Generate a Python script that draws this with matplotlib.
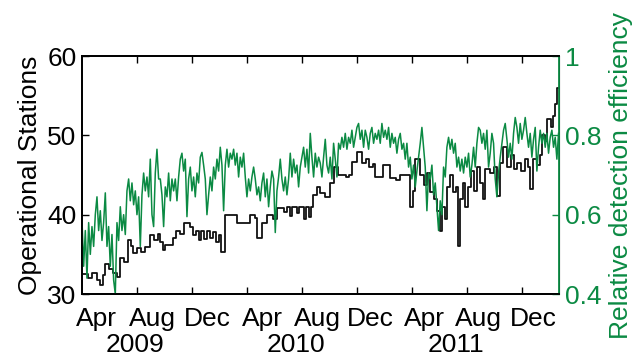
import numpy as np
import matplotlib
matplotlib.use("Agg")
import matplotlib.pyplot as plt

plt.rcParams["font.family"] = ["Liberation Sans", "DejaVu Sans"]

GREEN = "#0b8a43"
FS = 19

# x axis: days from the left edge of the plot (~1 Mar 2009)
X_END = 1053
tick_days = [121, 242, 364, 486, 608, 729, 851, 972]
month_days = [33, 155, 276, 398, 520, 637, 756, 876, 996]
month_labels = ["Apr", "Aug", "Dec", "Apr", "Aug", "Dec", "Apr", "Aug", "Dec"]
year_days = [117, 473, 826]
year_labels = ["2009", "2010", "2011"]

# operational stations: step changes (day, count)
station_days = [0, 13, 22, 33, 40, 46, 51, 60, 68, 77, 84, 93, 102, 108, 113, 121,
                130, 139, 150, 159, 168, 172, 179, 183, 201, 208, 216, 225, 239, 245,
                252, 258, 263, 270, 276, 283, 289, 296, 303, 307, 316, 342, 371, 382,
                387, 398, 409, 422, 431, 446, 453, 459, 464, 475, 479, 490, 495, 501,
                506, 510, 519, 526, 537, 548, 557, 565, 583, 590, 596, 607, 618, 627,
                634, 643, 647, 665, 680, 694, 702, 724, 731, 736, 747, 755, 762, 769,
                778, 784, 791, 795, 802, 806, 813, 820, 826, 831, 834, 840, 846, 853,
                859, 866, 873, 879, 886, 890, 901, 910, 917, 923, 930, 939, 946, 954,
                961, 970, 979, 985, 990, 996, 1005, 1012, 1016, 1023, 1027, 1036,
                1040, 1045, 1049, 1053]
stations = [32.5, 32.0, 32.6, 31.8, 31.1, 32.4, 33.8, 33.2, 32.6, 32.2, 34.5, 34.0,
            36.8, 36.0, 35.2, 35.8, 35.3, 35.9, 37.4, 36.8, 37.6, 36.5, 35.5, 36.2,
            37.0, 38.0, 37.6, 38.9, 38.4, 37.5, 38.0, 36.8, 37.9, 36.9, 38.0, 37.0,
            37.8, 36.6, 37.5, 35.3, 40.0, 39.0, 40.0, 39.6, 37.0, 39.0, 40.0, 39.5,
            40.8, 40.3, 41.0, 39.8, 41.0, 40.2, 41.0, 39.5, 41.0, 39.7, 41.0, 42.5,
            43.5, 42.7, 42.2, 44.0, 46.0, 45.0, 44.7, 45.0, 46.6, 47.9, 46.5, 47.0,
            46.0, 46.4, 44.8, 46.3, 44.6, 44.4, 45.0, 41.0, 43.0, 47.0, 45.0, 43.7,
            45.2, 42.8, 42.0, 40.5, 38.0, 41.0, 39.5, 43.5, 45.0, 42.8, 43.5, 36.0,
            42.0, 44.0, 41.0, 43.5, 45.5, 43.0, 46.0, 44.0, 42.0, 45.8, 45.2, 46.0,
            42.3, 46.5, 48.5, 46.0, 47.5, 45.8, 46.5, 45.5, 47.0, 46.0, 43.2, 47.0,
            46.2, 47.5, 50.0, 49.3, 52.0, 51.0, 52.5, 54.0, 56.0, 56.0]

# relative detection efficiency, sampled about every 3.7 days
efficiency = [
    0.587, 0.47, 0.56, 0.44, 0.58, 0.50, 0.57, 0.52, 0.60, 0.645, 0.56, 0.61,
    0.535, 0.58, 0.655, 0.52, 0.57, 0.47, 0.55, 0.435, 0.40, 0.58, 0.535, 0.62,
    0.56, 0.60, 0.55, 0.66, 0.69, 0.635, 0.68, 0.625, 0.66, 0.60, 0.645, 0.52,
    0.65, 0.705, 0.66, 0.695, 0.645, 0.74, 0.60, 0.57, 0.705, 0.765, 0.69,
    0.69, 0.65, 0.57, 0.67, 0.645, 0.705, 0.635, 0.69, 0.66, 0.69, 0.635, 0.695,
    0.74, 0.755, 0.71, 0.74, 0.595, 0.69, 0.72, 0.66, 0.695, 0.645, 0.705, 0.68,
    0.745, 0.757, 0.725, 0.69, 0.60, 0.65, 0.695, 0.66, 0.72, 0.69, 0.74, 0.71,
    0.77, 0.725, 0.61, 0.725, 0.765, 0.72, 0.755, 0.74, 0.765, 0.725, 0.755, 0.695,
    0.745, 0.72, 0.755, 0.695, 0.645, 0.69, 0.66, 0.695, 0.72, 0.69, 0.65, 0.67,
    0.635, 0.68, 0.705, 0.645, 0.69, 0.62, 0.67, 0.71, 0.69, 0.555, 0.66, 0.695,
    0.74, 0.69, 0.66, 0.695, 0.65, 0.69, 0.755, 0.695, 0.74, 0.705, 0.725, 0.67,
    0.72, 0.745, 0.77, 0.72, 0.765, 0.705, 0.805, 0.745, 0.695, 0.755, 0.72, 0.745,
    0.73, 0.695, 0.745, 0.79, 0.725, 0.705, 0.745, 0.69, 0.78, 0.74, 0.695, 0.78,
    0.765, 0.795, 0.77, 0.805, 0.765, 0.795, 0.78, 0.813, 0.77, 0.795, 0.82, 0.83,
    0.79, 0.813, 0.77, 0.813, 0.795, 0.765, 0.805, 0.82, 0.78, 0.805, 0.79, 0.813,
    0.78, 0.83, 0.795, 0.813, 0.79, 0.82, 0.77, 0.805, 0.78, 0.795, 0.755, 0.79,
    0.805, 0.765, 0.78, 0.74, 0.78, 0.72, 0.745, 0.69, 0.725, 0.67, 0.71, 0.745,
    0.78, 0.82, 0.77, 0.72, 0.61, 0.705, 0.69, 0.725, 0.65, 0.68, 0.62, 0.56,
    0.635, 0.60, 0.72, 0.695, 0.77, 0.795, 0.765, 0.79, 0.755, 0.78, 0.72, 0.745,
    0.71, 0.74, 0.705, 0.745, 0.72, 0.755, 0.695, 0.725, 0.77, 0.72, 0.78, 0.82,
    0.813, 0.78, 0.805, 0.765, 0.813, 0.72, 0.755, 0.805, 0.78, 0.69, 0.645, 0.705,
    0.745, 0.78, 0.813, 0.83, 0.79, 0.745, 0.78, 0.74, 0.805, 0.845, 0.82, 0.78,
    0.83, 0.79, 0.813, 0.845, 0.805, 0.77, 0.805, 0.745, 0.79, 0.82, 0.71, 0.77,
    0.813, 0.78, 0.805, 0.77, 0.805, 0.755, 0.795, 0.813, 0.77, 0.795, 0.74, 0.805,
]
eff_days = np.linspace(0, X_END - 1, len(efficiency))

fig = plt.figure(figsize=(6.34, 3.6), dpi=100)
ax = fig.add_axes([0.1293, 0.1833, 0.7524, 0.6611])
ax2 = ax.twinx()

ax.plot(station_days, stations, color="#111111", lw=1.3, drawstyle="steps-post")
ax2.plot(eff_days, efficiency, color=GREEN, lw=1.1)

ax.set_xlim(0, X_END)
ax.set_ylim(30, 60)
ax2.set_ylim(0.4, 1.0)

ax.set_yticks([30, 40, 50, 60])
ax2.set_yticks([0.4, 0.6, 0.8, 1.0])
ax2.set_yticklabels(["0.4", "0.6", "0.8", "1"])

ax.set_xticks(tick_days)
ax.set_xticklabels([])
ax.set_xticks(month_days, minor=True)
ax.set_xticklabels(month_labels, minor=True)
ax.tick_params(axis="x", which="major", direction="in", length=5, width=1,
               top=True, bottom=True)
ax.tick_params(axis="x", which="minor", length=0, pad=9, labelsize=FS)
ax.tick_params(axis="y", direction="in", length=5, width=1, labelsize=FS, pad=4)
ax2.tick_params(axis="y", direction="in", length=5, width=1, labelsize=FS,
                colors=GREEN, pad=4)

for x, lab in zip(year_days, year_labels):
    ax.text(x, -0.165, lab, transform=ax.get_xaxis_transform(), ha="center",
            va="top", fontsize=FS)

for sp in ["left", "top", "bottom"]:
    ax.spines[sp].set_linewidth(1.3)
    ax2.spines[sp].set_linewidth(1.3)
ax2.spines["right"].set_color(GREEN)
ax2.spines["right"].set_linewidth(1.3)

ax.set_ylabel("Operational Stations", fontsize=FS, labelpad=4)
ax2.set_ylabel("Relative detection efficiency", fontsize=FS, color=GREEN,
               labelpad=6)

fig.savefig("out.png", dpi=100)
